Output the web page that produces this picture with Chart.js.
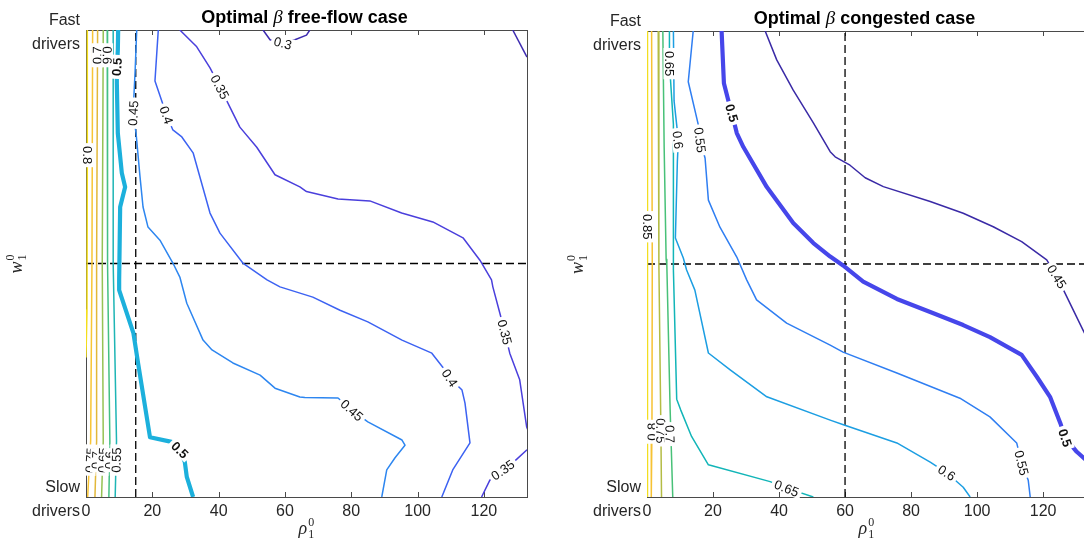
<!DOCTYPE html>
<html>
<head>
<meta charset="utf-8">
<script src="https://cdn.jsdelivr.net/npm/chart.js@4.4.1/dist/chart.umd.min.js"></script>
<style>
  body { margin: 0; width: 1084px; height: 548px; overflow: hidden; background: #fff; position: relative; }
  .panel { position: absolute; top: 0; width: 545px; height: 548px; }
</style>
</head>
<body>
<div class="panel" style="left:0"><canvas id="freeFlow"></canvas></div>
<div class="panel" style="left:561px"><canvas id="congested"></canvas></div>
<script>
// axis values
const rhoMax = 133;
const rhoStep = 20;
const wTicks = [0, 1];
const wTickLabels = [['Slow', 'drivers'], ['Fast', 'drivers']];
const wSplit = 0.5;
const freeSplit = 15;
const congSplit = 60;

// free-flow case: contour levels and lines (rho, w)
const freeLevels = [0.3, 0.35, 0.4, 0.45, 0.5, 0.55, 0.6, 0.65, 0.7, 0.75, 0.8];
const freeColors = ['#3d2bb0', '#4a3fdc', '#3c62f2', '#2d86f0', '#1cb0dc', '#1eb5b5', '#44c084', '#96c254', '#e2b83a', '#f8c535', '#f4de1c'];

const free30a = [[53.4,1.0],[55.5,0.979],[59.4,0.972],[63.0,0.979],[66.5,0.989],[67.5,1.0]];
const free30b = [[128.7,1.0],[133,0.942]];
const free35a = [[28.3,1.0],[33.4,0.964],[37.4,0.919],[40.4,0.878],[43.4,0.835],[46.4,0.792],[51.5,0.749],[57.0,0.690],[64.5,0.664],[66.5,0.654],[76.0,0.638],[85.6,0.634],[95.2,0.608],[104.6,0.589],[113.7,0.555],[118.8,0.507],[122.3,0.465],[122.7,0.450],[124.8,0.394],[126.3,0.353],[127.8,0.308],[130.8,0.251],[132.9,0.150],[133.5,0.14]];
const free35b = [[133,0.101],[128.7,0.073],[125.7,0.058],[121.8,0.036],[119.3,0]];
const free40 = [[21.8,1.0],[20.8,0.891],[24.3,0.818],[26.2,0.786],[28.9,0.771],[32.3,0.737],[37.4,0.608],[40.4,0.565],[47.3,0.501],[54.6,0.465],[58.5,0.450],[68.4,0.428],[76.6,0.400],[85.0,0.375],[95.3,0.336],[104.3,0.308],[107.6,0.278],[109.7,0.255],[113.4,0.229],[114.3,0.201],[115.8,0.116],[110.6,0.058],[107.3,0]];
const free45 = [[15.3,1.0],[14.8,0.910],[14.2,0.822],[15.1,0.779],[16.3,0.685],[17.2,0.621],[18.7,0.578],[22.3,0.550],[26.2,0.501],[28.3,0.471],[30.4,0.415],[35.3,0.336],[38.0,0.315],[44.3,0.287],[52.5,0.261],[57.0,0.233],[64.5,0.214],[66.0,0.213],[76.0,0.212],[80.2,0.186],[85.0,0.161],[95.3,0.122],[96.2,0.111],[93.2,0.084],[90.7,0.058],[89.2,0]];
const free50 = [[9.7,1.0],[9.6,0.957],[9.3,0.921],[9.3,0.886],[9.6,0.779],[10.8,0.694],[11.8,0.664],[10.3,0.621],[10.0,0.465],[10.0,0.443],[14.3,0.351],[15.7,0.287],[19.3,0.128],[25.8,0.118],[28.3,0.101],[29.8,0.075],[30.4,0.043],[32.3,0]];
const free55 = [[8.2,1],[8.2,0.5],[9.2,0.12],[8.8,0]];
const free60 = [[6.4,1],[6.5,0.5],[7.2,0.12],[6.9,0]];
const free65 = [[5.2,1],[4.9,0.5],[5.2,0.12],[4.7,0]];
const free70 = [[3.5,1],[3.2,0.5],[3.2,0.12],[2.7,0]];
const free75 = [[2.0,1],[1.8,0.5],[1.4,0.12],[0.5,0]];
const free80 = [[0.4,1],[0.4,0.72],[0.3,0.4],[0,0.3]];

const freeLines = [
  [0.3, free30a], [0.3, free30b], [0.35, free35a], [0.35, free35b], [0.4, free40], [0.45, free45],
  [0.5, free50], [0.55, free55], [0.6, free60], [0.65, free65], [0.7, free70], [0.75, free75], [0.8, free80]
];
// inline labels: level, rho, w
const freeLabels = [
  [0.3, 59.4, 0.972], [0.35, 40.4, 0.878], [0.4, 24.3, 0.818], [0.45, 14.2, 0.822],
  [0.5, 9.3, 0.921], [0.5, 28.3, 0.101], [0.45, 80.2, 0.186], [0.4, 109.7, 0.255],
  [0.35, 126.3, 0.353], [0.35, 125.7, 0.058], [0.7, 3.4, 0.946], [0.6, 6.4, 0.946], [0.8, 0.4, 0.732],
  [0.75, 1.3, 0.079], [0.7, 3.1, 0.079], [0.65, 5.1, 0.079], [0.6, 7.1, 0.079], [0.55, 9.1, 0.079]
];

// congested case
const congLevels = [0.45, 0.5, 0.55, 0.6, 0.65, 0.7, 0.75, 0.8, 0.85];
const congColors = ['#3a2aa6', '#4646ea', '#2f7ef2', '#1c9ee2', '#12b5b8', '#48c178', '#b4bc44', '#f6c233', '#f2de20'];

const cong45 = [[35.8,1.0],[39.3,0.938],[44.3,0.873],[50.4,0.803],[55.5,0.741],[57.0,0.730],[61.5,0.712],[66.1,0.685],[71.6,0.666],[85.8,0.634],[95.8,0.609],[104.9,0.580],[113.5,0.548],[121.1,0.509],[124.2,0.473],[126.2,0.444],[132.1,0.358],[133.6,0.337]];
const cong50 = [[22.6,1.0],[23.3,0.888],[24.6,0.852],[25.7,0.824],[27.2,0.781],[29.2,0.751],[36.3,0.665],[44.3,0.588],[50.4,0.545],[55.5,0.516],[59.4,0.497],[65.5,0.462],[75.7,0.425],[85.8,0.397],[95.8,0.369],[103.9,0.343],[113.5,0.305],[118.1,0.258],[122.1,0.215],[125.2,0.159],[126.7,0.127],[130.2,0.097],[133.4,0.077]];
const cong55 = [[14.0,1.0],[12.5,0.891],[15.5,0.80],[16.1,0.766],[17.6,0.727],[18.6,0.637],[22.1,0.579],[27.2,0.515],[30.2,0.466],[33.2,0.423],[42.3,0.373],[55.5,0.326],[59.4,0.311],[75.7,0.266],[94.8,0.212],[103.9,0.172],[112.0,0.116],[113.5,0.073],[115.5,0.036],[116.1,0]];
const cong60 = [[8.0,1.0],[8.2,0.85],[9.5,0.766],[9.2,0.72],[8.6,0.556],[11.0,0.513],[12.0,0.487],[14.5,0.444],[18.6,0.309],[25.2,0.273],[36.3,0.215],[55.5,0.165],[59.5,0.155],[75.7,0.116],[85.8,0.075],[90.8,0.052],[95.8,0.021],[97.9,0]];
const cong65 = [[6.8,1.0],[6.8,0.93],[8.0,0.80],[8.0,0.513],[8.0,0.487],[9.0,0.21],[10.2,0.187],[13.5,0.13],[18.6,0.069],[37.3,0.033],[42.3,0.019],[50.4,0]];
const cong70 = [[4.8,1],[5.2,0.75],[5.8,0.51],[6.0,0.5],[7.0,0.19],[7.8,0]];
const cong75 = [[3.4,1],[3.6,0.5],[4.2,0.15],[4.4,0]];
const cong80 = [[1.4,1],[1.6,0.5],[1.5,0.15],[1.3,0]];
const cong85 = [[0.15,1],[0.15,0]];

const congLines = [
  [0.45, cong45], [0.5, cong50], [0.55, cong55], [0.6, cong60], [0.65, cong65],
  [0.7, cong70], [0.75, cong75], [0.8, cong80], [0.85, cong85]
];
const congLabels = [
  [0.65, 6.8, 0.93], [0.6, 9.4, 0.766], [0.55, 16.1, 0.766], [0.5, 25.7, 0.824],
  [0.85, 0.15, 0.58], [0.8, 1.5, 0.14], [0.75, 4.2, 0.142], [0.7, 7.0, 0.135],
  [0.65, 42.3, 0.019], [0.6, 90.8, 0.052], [0.55, 113.5, 0.073], [0.5, 126.7, 0.127], [0.45, 124.2, 0.473]
];

const sansFont = '"Liberation Sans", Arial, Helvetica, sans-serif';
const mathFont = '"Liberation Serif", "DejaVu Serif", serif';
const inkColor = '#262626';
Chart.defaults.font.family = sansFont;
Chart.defaults.color = inkColor;

function contourSets(lines, levels, colors) {
  return lines.map(([lvl, pts]) => ({
    level: lvl,
    data: pts.map(([x, y]) => ({ x, y })),
    borderColor: colors[levels.indexOf(lvl)],
    borderWidth: lvl === 0.5 ? 4.2 : 1.5,
    borderJoinStyle: 'round',
    showLine: true,
    pointRadius: 0,
    tension: 0,
    fill: false
  }));
}

function dashedSet(pts) {
  return {
    data: pts,
    borderColor: '#000',
    borderWidth: 1.3,
    borderDash: [8, 4],
    showLine: true,
    pointRadius: 0,
    fill: false
  };
}

// axes box with inward ticks on top and bottom
const frame = {
  id: 'frame',
  beforeDatasetsDraw(chart) {
    const { ctx, chartArea: a, scales: { x } } = chart;
    ctx.save();
    ctx.strokeStyle = '#4a4a4a';
    ctx.lineWidth = 1;
    ctx.strokeRect(a.left + 0.5, a.top + 0.5, a.right - a.left, a.bottom - a.top);
    ctx.beginPath();
    x.ticks.forEach(t => {
      const px = Math.round(x.getPixelForValue(t.value)) + 0.5;
      ctx.moveTo(px, a.top); ctx.lineTo(px, a.top + 5);
      ctx.moveTo(px, a.bottom); ctx.lineTo(px, a.bottom - 5);
    });
    ctx.stroke();
    ctx.restore();
  }
};

function labelPlugin(items) {
  return {
    id: 'contourLabels',
    afterDatasetsDraw(chart) {
      const { ctx, scales: { x, y } } = chart;
      items.forEach(([lvl, lx, ly]) => {
        const px = x.getPixelForValue(lx), py = y.getPixelForValue(ly);
        let best = Infinity, ang = 0;
        chart.data.datasets.forEach(ds => {
          if (ds.level !== lvl) return;
          const p = ds.data.map(d => [x.getPixelForValue(d.x), y.getPixelForValue(d.y)]);
          for (let i = 1; i < p.length; i++) {
            const [ax, ay] = p[i - 1], [bx, by] = p[i];
            const dx = bx - ax, dy = by - ay, len2 = dx * dx + dy * dy || 1;
            const t = Math.max(0, Math.min(1, ((px - ax) * dx + (py - ay) * dy) / len2));
            const d = Math.hypot(ax + t * dx - px, ay + t * dy - py);
            if (d < best) { best = d; ang = Math.atan2(dy, dx); }
          }
        });
        if (ang > Math.PI / 2) ang -= Math.PI;
        if (ang <= -Math.PI / 2) ang += Math.PI;
        const txt = String(lvl);
        ctx.save();
        ctx.translate(px, py);
        ctx.rotate(ang);
        ctx.font = (lvl === 0.5 ? 'bold ' : '') + '13px ' + sansFont;
        const w = ctx.measureText(txt).width;
        ctx.fillStyle = '#fff';
        ctx.fillRect(-w / 2 - 3, -6, w + 6, 12);
        ctx.fillStyle = '#111';
        ctx.textAlign = 'center';
        ctx.textBaseline = 'middle';
        ctx.fillText(txt, 0, 1);
        ctx.restore();
      });
    }
  };
}

// italic symbol with subscript 1 and superscript 0
function drawSym(ctx, sym, x, y) {
  ctx.font = 'italic 18px ' + mathFont;
  ctx.textAlign = 'left';
  ctx.textBaseline = 'alphabetic';
  ctx.fillText(sym, x, y);
  const w = ctx.measureText(sym).width;
  ctx.font = '12px ' + mathFont;
  ctx.fillText('1', x + w + 1, y + 4);
  ctx.fillText('0', x + w + 1, y - 8);
}

function textPlugin(caseName) {
  return {
    id: 'panelText',
    afterDraw(chart) {
      const { ctx, chartArea: a } = chart;
      const cx = (a.left + a.right) / 2;
      ctx.save();
      ctx.fillStyle = '#000';
      ctx.textBaseline = 'alphabetic';
      ctx.textAlign = 'left';
      const boldF = 'bold 18px ' + sansFont, betaF = 'italic 19px ' + mathFont;
      const pieces = [['Optimal ', boldF], ['β', betaF], [' ' + caseName, boldF]];
      let total = 0;
      pieces.forEach(([t, f]) => { ctx.font = f; total += ctx.measureText(t).width; });
      let px = cx - 2 - total / 2;
      pieces.forEach(([t, f]) => {
        ctx.font = f;
        ctx.fillText(t, px, a.top - 7);
        px += ctx.measureText(t).width;
      });
      ctx.fillStyle = inkColor;
      drawSym(ctx, 'ρ', cx - 8, a.bottom + 37);
      ctx.translate(a.left - 64, (a.top + a.bottom) / 2);
      ctx.rotate(-Math.PI / 2);
      drawSym(ctx, 'w', -10, 0);
      ctx.restore();
    }
  };
}

function buildPanel(id, lines, levels, colors, labels, split, caseName, padRight, padTop) {
  const datasets = contourSets(lines, levels, colors);
  datasets.push(dashedSet([{ x: split, y: 0 }, { x: split, y: 1 }]));
  datasets.push(dashedSet([{ x: 0, y: wSplit }, { x: rhoMax, y: wSplit }]));
  return new Chart(document.getElementById(id), {
    type: 'scatter',
    data: { datasets },
    options: {
      responsive: true,
      maintainAspectRatio: false,
      animation: false,
      events: [],
      layout: { padding: { top: padTop, right: padRight, left: 0, bottom: 0 } },
      plugins: { legend: { display: false }, tooltip: { enabled: false } },
      scales: {
        x: {
          type: 'linear',
          min: 0,
          max: rhoMax,
          grid: { display: false, drawTicks: false },
          border: { display: false },
          ticks: { stepSize: rhoStep, includeBounds: false, padding: 5, maxRotation: 0, font: { size: 16 }, color: inkColor },
          afterFit: s => { s.height = 51; }
        },
        y: {
          type: 'linear',
          min: 0,
          max: 1,
          grid: { display: false, drawTicks: false },
          border: { display: false },
          afterBuildTicks: s => { s.ticks = wTicks.map(v => ({ value: v })); },
          ticks: {
            padding: 6,
            labelOffset: 3,
            font: { size: 16, lineHeight: 1.5 },
            color: inkColor,
            callback: v => wTickLabels[wTicks.indexOf(v)]
          },
          afterFit: s => { s.width = 86; }
        }
      }
    },
    plugins: [frame, labelPlugin(labels), textPlugin(caseName)]
  });
}

buildPanel('freeFlow', freeLines, freeLevels, freeColors, freeLabels, freeSplit, 'free-flow case', 18, 30);
buildPanel('congested', congLines, congLevels, congColors, congLabels, congSplit, 'congested case', 20, 31);
</script>
</body>
</html>
